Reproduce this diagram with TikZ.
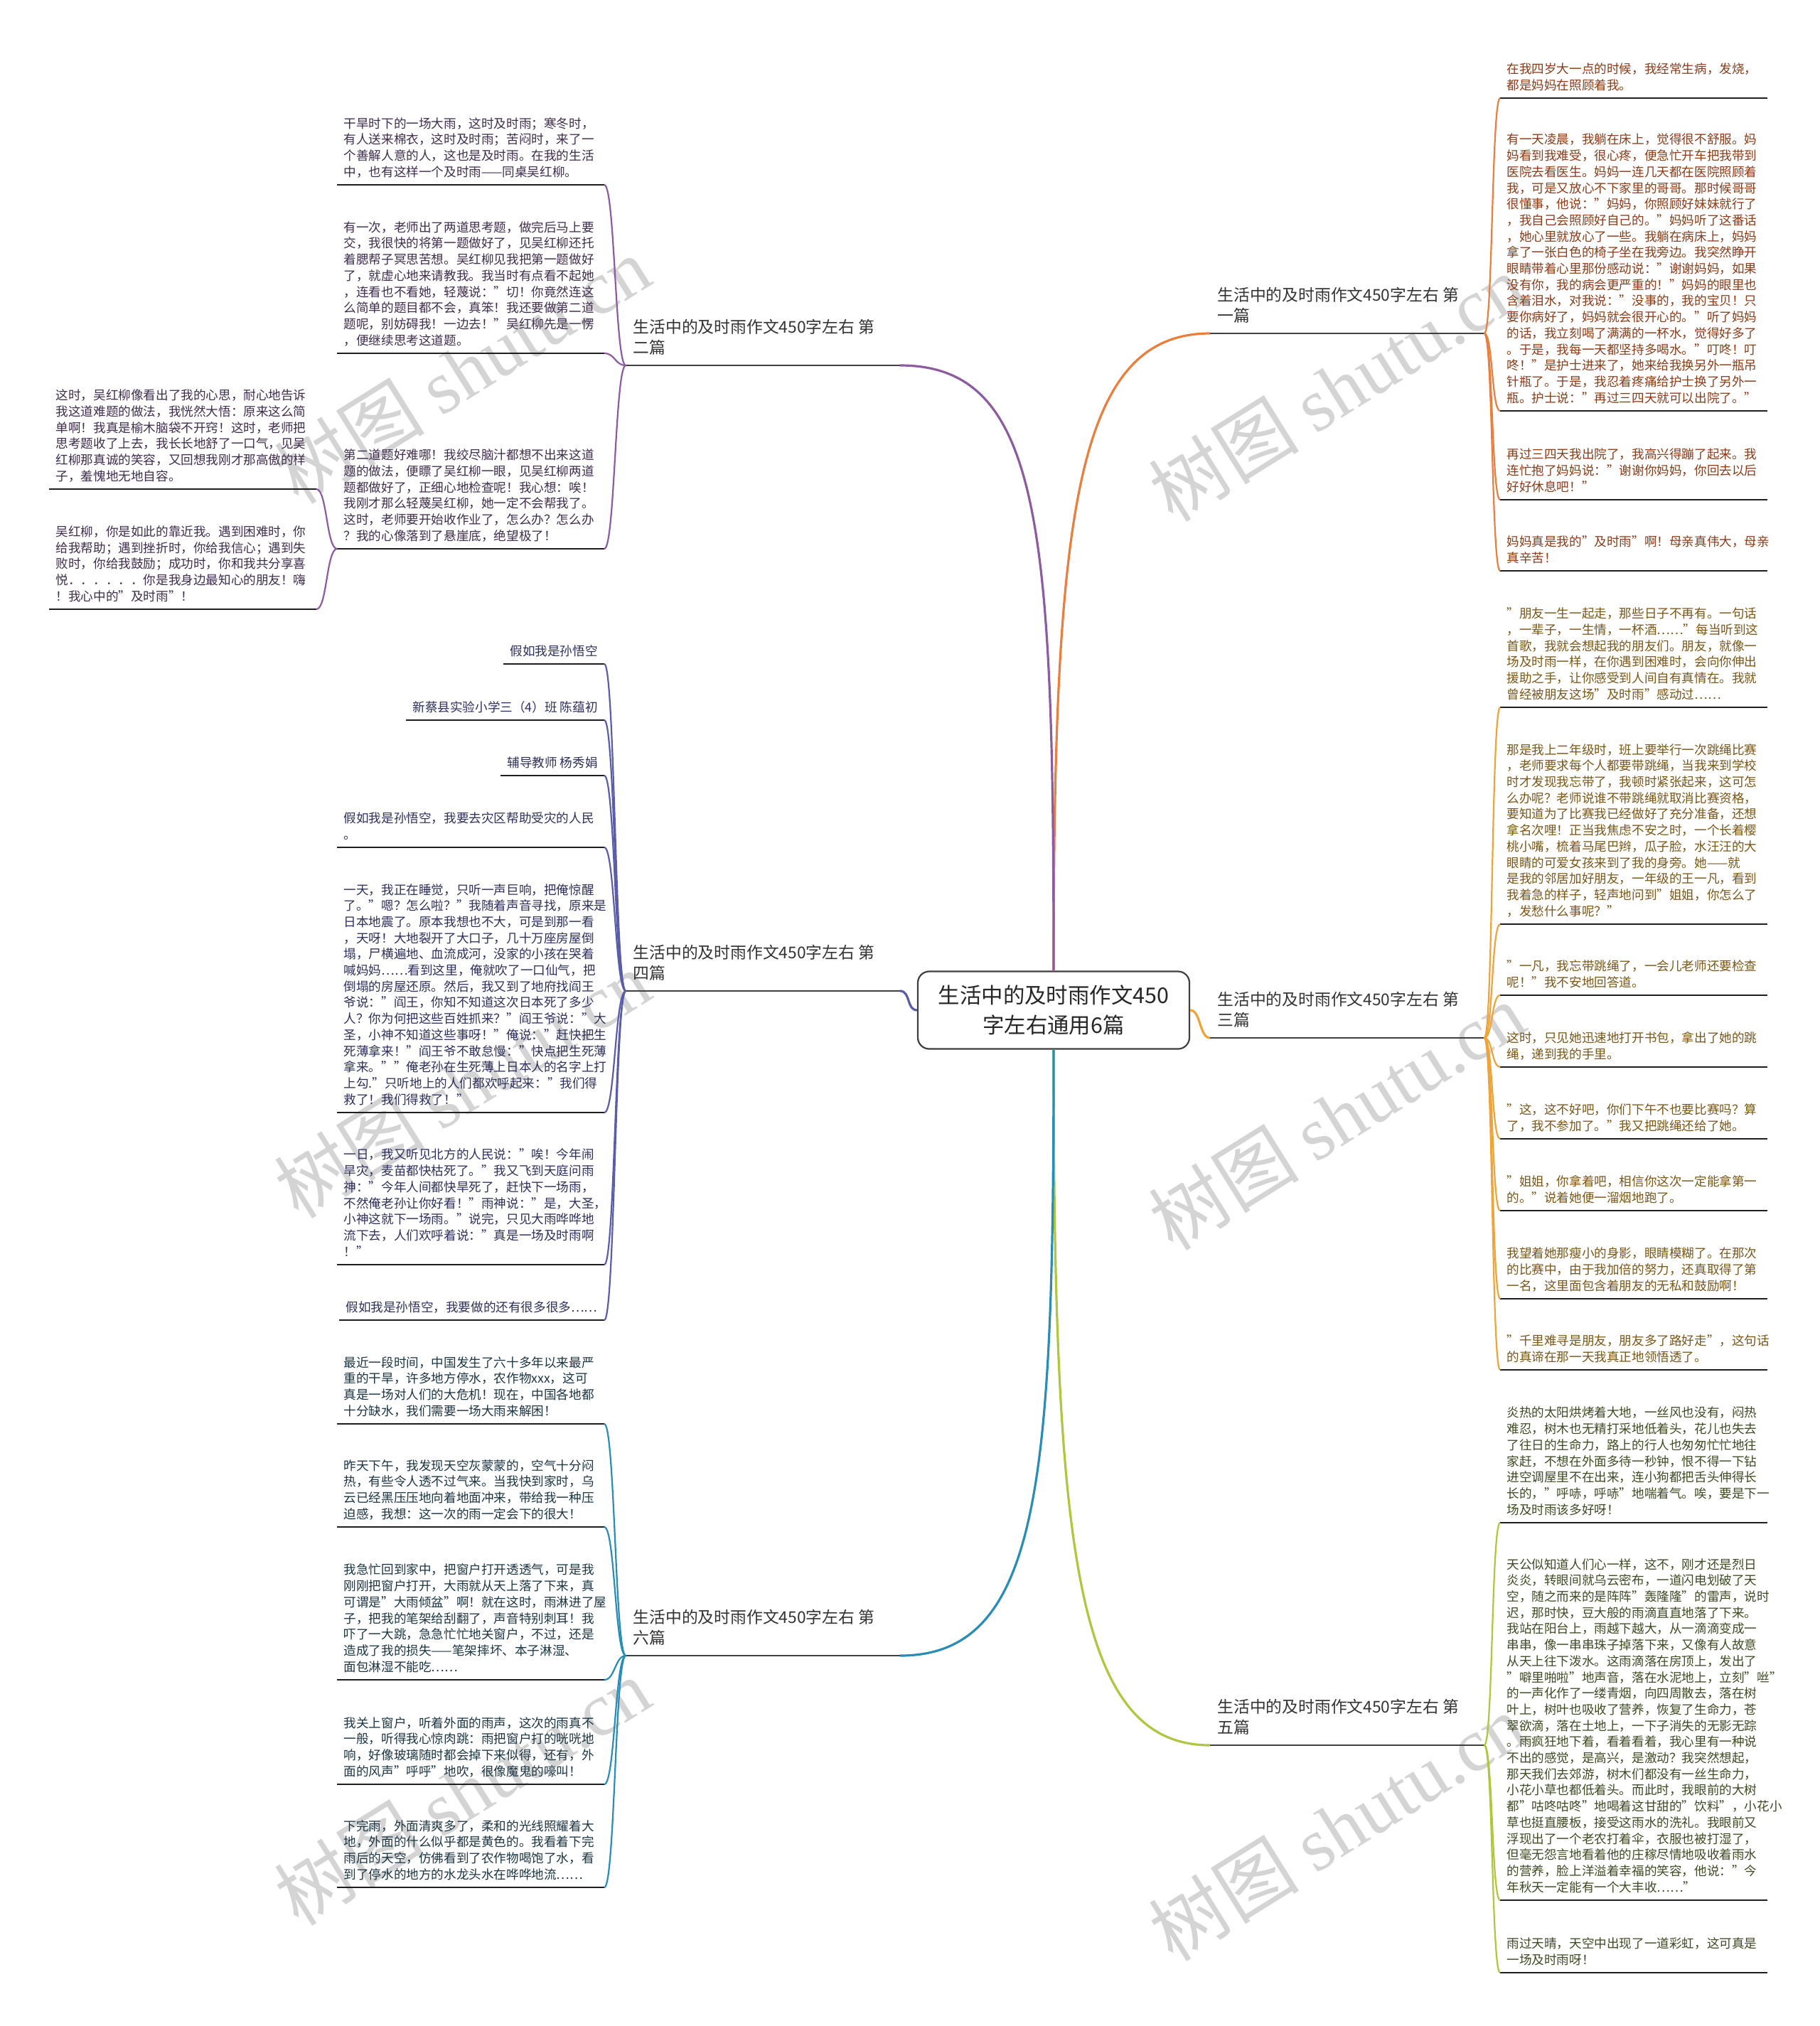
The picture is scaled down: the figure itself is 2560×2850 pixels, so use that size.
\documentclass[tikz,border=0pt]{standalone}
\usepackage{fontspec}
\setmainfont{Noto Sans CJK SC}
\newfontfamily\wmserif{Liberation Serif}
\newcommand\lfnt{\fontsize{8.8pt}{11.35pt}\selectfont}
\newcommand\bfnt{\fontsize{11.4pt}{14.5pt}\selectfont}
\newcommand\cfnt{\fontsize{15.2pt}{21pt}\selectfont}
\newcommand\leafbox[1]{\begin{tabular}[b]{@{}p{178.5pt}@{}}#1\end{tabular}}
\newcommand\brbox[1]{\begin{tabular}[b]{@{}p{182.5pt}@{}}#1\end{tabular}}
\definecolor{cBa}{HTML}{EA7E3C}
\definecolor{cBc}{HTML}{EFA43A}
\definecolor{cBe}{HTML}{AEC73C}
\definecolor{cBb}{HTML}{8D5B9F}
\definecolor{cBd}{HTML}{5A5DA8}
\definecolor{cBf}{HTML}{2A8DB5}
\definecolor{tBa}{HTML}{8B3B17}
\definecolor{tBc}{HTML}{7A5617}
\definecolor{tBe}{HTML}{3E4A22}
\definecolor{tBb}{HTML}{3E2D4D}
\definecolor{tBd}{HTML}{2E2F5C}
\definecolor{tBf}{HTML}{1C3543}
\begin{document}
\begin{tikzpicture}[x=0.5pt,y=-0.5pt,
  ul/.style={draw=black!88, line width=1.35pt},
  bul/.style={draw=black!75, line width=1.4pt},
  leaf/.style={inner xsep=4.5pt, inner ysep=5.75pt, text depth=0pt, font=\lfnt,
    append after command={(\tikzlastnode.south west) edge[ul] (\tikzlastnode.south east)}},
  leafR/.style={leaf, anchor=south west, text=#1},
  leafL/.style={leaf, anchor=south east, text=#1},
  leafS/.style={leaf, anchor=south east, text=#1},
  br/.style={font=\bfnt, text=black!80, inner xsep=5pt,
    inner ysep=8.3pt, text depth=0pt,
    append after command={(\tikzlastnode.south west) edge[bul] (\tikzlastnode.south east)}},
  brR/.style={br, anchor=south west},
  brL/.style={br, anchor=south east},
  ctrbox/.style={draw=black!75, line width=1.1pt, rounded corners=8pt, fill=white,
    minimum width=191pt, minimum height=54.5pt, align=center, font=\cfnt, text=black!85},
  mainlink/.style={draw=#1, line width=1.6pt},
  sublink/.style={draw=#1, line width=1.1pt},
  wm/.style={text=black!17, font=\fontsize{53pt}{60pt}\selectfont, rotate=32}
]
\fill[white] (0,0) rectangle (2560,2850);
\useasboundingbox (0,0) rectangle (2560,2850);

% watermarks
\node[wm] (w1) at (650,520) {树图 {\wmserif shutu.cn}};
\node[wm] (w2) at (1880,545) {树图 {\wmserif shutu.cn}};
\node[wm] (w3) at (650,1525) {树图 {\wmserif shutu.cn}};
\node[wm] (w4) at (1880,1570) {树图 {\wmserif shutu.cn}};
\node[wm] (w5) at (650,2520) {树图 {\wmserif shutu.cn}};
\node[wm] (w6) at (1880,2570) {树图 {\wmserif shutu.cn}};

% center
\node[ctrbox] (ctr) at (1482,1421) {生活中的及时雨作文450\\字左右通用6篇};

% branches
\node[brR] (b1) at (1702,469) {\brbox{生活中的及时雨作文450字左右 第\\一篇}};
\node[brR] (b3) at (1702,1460) {\brbox{生活中的及时雨作文450字左右 第\\三篇}};
\node[brR] (b5) at (1702,2455) {\brbox{生活中的及时雨作文450字左右 第\\五篇}};
\node[brL] (b2) at (1266,514) {\brbox{生活中的及时雨作文450字左右 第\\二篇}};
\node[brL] (b4) at (1266,1394) {\brbox{生活中的及时雨作文450字左右 第\\四篇}};
\node[brL] (b6) at (1266,2329) {\brbox{生活中的及时雨作文450字左右 第\\六篇}};

\draw[mainlink=cBa] (ctr.north) .. controls +(0,-640) and +(-190,0) .. (b1.south west);
\draw[mainlink=cBb] (ctr.north) .. controls +(0,-620) and +(200,0) .. (b2.south east);
\draw[mainlink=cBc] (ctr.east) .. controls +(15,0) and +(-15,0) .. (b3.south west);
\draw[mainlink=cBd] (ctr.west) .. controls +(-15,0) and +(15,0) .. (b4.south east);
\draw[mainlink=cBe] (ctr.south) .. controls +(0,700) and +(-190,0) .. (b5.south west);
\draw[mainlink=cBf] (ctr.south) .. controls +(0,600) and +(200,0) .. (b6.south east);

% ---- branch 1 leaves
\node[leafR=tBa] (r1a) at (2110,138) {\leafbox{在我四岁大一点的时候，我经常生病，发烧，\\都是妈妈在照顾着我。}};
\node[leafR=tBa] (r1b) at (2110,578) {\leafbox{有一天凌晨，我躺在床上，觉得很不舒服。妈\\妈看到我难受，很心疼，便急忙开车把我带到\\医院去看医生。妈妈一连几天都在医院照顾着\\我，可是又放心不下家里的哥哥。那时候哥哥\\很懂事，他说："妈妈，你照顾好妹妹就行了\\，我自己会照顾好自己的。"妈妈听了这番话\\，她心里就放心了一些。我躺在病床上，妈妈\\拿了一张白色的椅子坐在我旁边。我突然睁开\\眼睛带着心里那份感动说："谢谢妈妈，如果\\没有你，我的病会更严重的！"妈妈的眼里也\\含着泪水，对我说："没事的，我的宝贝！只\\要你病好了，妈妈就会很开心的。"听了妈妈\\的话，我立刻喝了满满的一杯水，觉得好多了\\。于是，我每一天都坚持多喝水。"叮咚！叮\\咚！"是护士进来了，她来给我换另外一瓶吊\\针瓶了。于是，我忍着疼痛给护士换了另外一\\瓶。护士说："再过三四天就可以出院了。"}};
\node[leafR=tBa] (r1c) at (2110,703) {\leafbox{再过三四天我出院了，我高兴得蹦了起来。我\\连忙抱了妈妈说："谢谢你妈妈，你回去以后\\好好休息吧！"}};
\node[leafR=tBa] (r1d) at (2110,803) {\leafbox{妈妈真是我的"及时雨"啊！母亲真伟大，母亲\\真辛苦！}};
\foreach \n in {r1a,r1b,r1c,r1d}
  \draw[sublink=cBa] (b1.south east) .. controls +(12,0) and +(-12,0) .. (\n.south west);

% ---- branch 3 leaves
\node[leafR=tBc] (r3a) at (2110,995) {\leafbox{"朋友一生一起走，那些日子不再有。一句话\\，一辈子，一生情，一杯酒……"每当听到这\\首歌，我就会想起我的朋友们。朋友，就像一\\场及时雨一样，在你遇到困难时，会向你伸出\\援助之手，让你感受到人间自有真情在。我就\\曾经被朋友这场"及时雨"感动过……}};
\node[leafR=tBc] (r3b) at (2110,1300) {\leafbox{那是我上二年级时，班上要举行一次跳绳比赛\\，老师要求每个人都要带跳绳，当我来到学校\\时才发现我忘带了，我顿时紧张起来，这可怎\\么办呢？老师说谁不带跳绳就取消比赛资格，\\要知道为了比赛我已经做好了充分准备，还想\\拿名次哩！正当我焦虑不安之时，一个长着樱\\桃小嘴，梳着马尾巴辫，瓜子脸，水汪汪的大\\眼睛的可爱女孩来到了我的身旁。她——就\\是我的邻居加好朋友，一年级的王一凡，看到\\我着急的样子，轻声地问到"姐姐，你怎么了\\，发愁什么事呢？"}};
\node[leafR=tBc] (r3c) at (2110,1400) {\leafbox{"一凡，我忘带跳绳了，一会儿老师还要检查\\呢！"我不安地回答道。}};
\node[leafR=tBc] (r3d) at (2110,1501) {\leafbox{这时，只见她迅速地打开书包，拿出了她的跳\\绳，递到我的手里。}};
\node[leafR=tBc] (r3e) at (2110,1602) {\leafbox{"这，这不好吧，你们下午不也要比赛吗？算\\了，我不参加了。"我又把跳绳还给了她。}};
\node[leafR=tBc] (r3f) at (2110,1703) {\leafbox{"姐姐，你拿着吧，相信你这次一定能拿第一\\的。"说着她便一溜烟地跑了。}};
\node[leafR=tBc] (r3g) at (2110,1827) {\leafbox{我望着她那瘦小的身影，眼睛模糊了。在那次\\的比赛中，由于我加倍的努力，还真取得了第\\一名，这里面包含着朋友的无私和鼓励啊！}};
\node[leafR=tBc] (r3h) at (2110,1927) {\leafbox{"千里难寻是朋友，朋友多了路好走"，这句话\\的真谛在那一天我真正地领悟透了。}};
\foreach \n in {r3a,r3b,r3c,r3d,r3e,r3f,r3g,r3h}
  \draw[sublink=cBc] (b3.south east) .. controls +(12,0) and +(-12,0) .. (\n.south west);

% ---- branch 5 leaves
\node[leafR=tBe] (r5a) at (2110,2142) {\leafbox{炎热的太阳烘烤着大地，一丝风也没有，闷热\\难忍，树木也无精打采地低着头，花儿也失去\\了往日的生命力，路上的行人也匆匆忙忙地往\\家赶，不想在外面多待一秒钟，恨不得一下钻\\进空调屋里不在出来，连小狗都把舌头伸得长\\长的，"呼哧，呼哧"地喘着气。唉，要是下一\\场及时雨该多好呀！}};
\node[leafR=tBe] (r5b) at (2110,2673) {\leafbox{天公似知道人们心一样，这不，刚才还是烈日\\炎炎，转眼间就乌云密布，一道闪电划破了天\\空，随之而来的是阵阵"轰隆隆"的雷声，说时\\迟，那时快，豆大般的雨滴直直地落了下来。\\我站在阳台上，雨越下越大，从一滴滴变成一\\串串，像一串串珠子掉落下来，又像有人故意\\从天上往下泼水。这雨滴落在房顶上，发出了\\"噼里啪啦"地声音，落在水泥地上，立刻"咝"\\的一声化作了一缕青烟，向四周散去，落在树\\叶上，树叶也吸收了营养，恢复了生命力，苍\\翠欲滴，落在土地上，一下子消失的无影无踪\\。雨疯狂地下着，看着看着，我心里有一种说\\不出的感觉，是高兴，是激动？我突然想起，\\那天我们去郊游，树木们都没有一丝生命力，\\小花小草也都低着头。而此时，我眼前的大树\\都"咕咚咕咚"地喝着这甘甜的"饮料"，小花小\\草也挺直腰板，接受这雨水的洗礼。我眼前又\\浮现出了一个老农打着伞，衣服也被打湿了，\\但毫无怨言地看着他的庄稼尽情地吸收着雨水\\的营养，脸上洋溢着幸福的笑容，他说："今\\年秋天一定能有一个大丰收……"}};
\node[leafR=tBe] (r5c) at (2110,2775) {\leafbox{雨过天晴，天空中出现了一道彩虹，这可真是\\一场及时雨呀！}};
\foreach \n in {r5a,r5b,r5c}
  \draw[sublink=cBe] (b5.south east) .. controls +(12,0) and +(-12,0) .. (\n.south west);

% ---- branch 2 leaves
\node[leafL=tBb] (l2a) at (850,260) {\leafbox{干旱时下的一场大雨，这时及时雨；寒冬时，\\有人送来棉衣，这时及时雨；苦闷时，来了一\\个善解人意的人，这也是及时雨。在我的生活\\中，也有这样一个及时雨——同桌吴红柳。}};
\node[leafL=tBb] (l2b) at (850,497) {\leafbox{有一次，老师出了两道思考题，做完后马上要\\交，我很快的将第一题做好了，见吴红柳还托\\着腮帮子冥思苦想。吴红柳见我把第一题做好\\了，就虚心地来请教我。我当时有点看不起她\\，连看也不看她，轻蔑说："切！你竟然连这\\么简单的题目都不会，真笨！我还要做第二道\\题呢，别妨碍我！一边去！"吴红柳先是一愣\\，便继续思考这道题。}};
\node[leafL=tBb] (l2c) at (850,772) {\leafbox{第二道题好难哪！我绞尽脑汁都想不出来这道\\题的做法，便瞟了吴红柳一眼，见吴红柳两道\\题都做好了，正细心地检查呢！我心想：唉！\\我刚才那么轻蔑吴红柳，她一定不会帮我了。\\这时，老师要开始收作业了，怎么办？怎么办\\？我的心像落到了悬崖底，绝望极了！}};
\node[leafL=tBb] (l2d) at (445,688) {\leafbox{这时，吴红柳像看出了我的心思，耐心地告诉\\我这道难题的做法，我恍然大悟：原来这么简\\单啊！我真是榆木脑袋不开窍！这时，老师把\\思考题收了上去，我长长地舒了一口气，见吴\\红柳那真诚的笑容，又回想我刚才那高傲的样\\子，羞愧地无地自容。}};
\node[leafL=tBb] (l2e) at (445,857) {\leafbox{吴红柳，你是如此的靠近我。遇到困难时，你\\给我帮助；遇到挫折时，你给我信心；遇到失\\败时，你给我鼓励；成功时，你和我共分享喜\\悦．．．．．．你是我身边最知心的朋友！嗨\\！我心中的"及时雨"！}};
\foreach \n in {l2a,l2b,l2c}
  \draw[sublink=cBb] (b2.south west) .. controls +(-15,0) and +(15,0) .. (\n.south east);
\foreach \n in {l2d,l2e}
  \draw[sublink=cBb] (l2c.south west) .. controls +(-15,0) and +(15,0) .. (\n.south east);

% ---- branch 4 leaves
\node[leafS=tBd] (l4a) at (850,934) {假如我是孙悟空};
\node[leafS=tBd] (l4b) at (850,1013) {新蔡县实验小学三（4）班 陈蕴初};
\node[leafS=tBd] (l4c) at (850,1091) {辅导教师 杨秀娟};
\node[leafL=tBd] (l4d) at (850,1192) {\leafbox{假如我是孙悟空，我要去灾区帮助受灾的人民\\。}};
\node[leafL=tBd] (l4e) at (850,1565) {\leafbox{一天，我正在睡觉，只听一声巨响，把俺惊醒\\了。"嗯？怎么啦？"我随着声音寻找，原来是\\日本地震了。原本我想也不大，可是到那一看\\，天呀！大地裂开了大口子，几十万座房屋倒\\塌，尸横遍地、血流成河，没家的小孩在哭着\\喊妈妈……看到这里，俺就吹了一口仙气，把\\倒塌的房屋还原。然后，我又到了地府找阎王\\爷说："阎王，你知不知道这次日本死了多少\\人？你为何把这些百姓抓来？"阎王爷说："大\\圣，小神不知道这些事呀！"俺说："赶快把生\\死薄拿来！"阎王爷不敢怠慢："快点把生死薄\\拿来。""俺老孙在生死薄上日本人的名字上打\\上勾."只听地上的人们都欢呼起来："我们得\\救了！我们得救了！"}};
\node[leafL=tBd] (l4f) at (850,1779) {\leafbox{一日，我又听见北方的人民说："唉！今年闹\\旱灾，麦苗都快枯死了。"我又飞到天庭问雨\\神："今年人间都快旱死了，赶快下一场雨，\\不然俺老孙让你好看！"雨神说："是，大圣，\\小神这就下一场雨。"说完，只见大雨哗哗地\\流下去，人们欢呼着说："真是一场及时雨啊\\！"}};
\node[leafS=tBd] (l4g) at (850,1857) {假如我是孙悟空，我要做的还有很多很多……};
\foreach \n in {l4a,l4b,l4c,l4d,l4e,l4f,l4g}
  \draw[sublink=cBd] (b4.south west) .. controls +(-15,0) and +(15,0) .. (\n.south east);

% ---- branch 6 leaves
\node[leafL=tBf] (l6a) at (850,2003) {\leafbox{最近一段时间，中国发生了六十多年以来最严\\重的干旱，许多地方停水，农作物xxx，这可\\真是一场对人们的大危机！现在，中国各地都\\十分缺水，我们需要一场大雨来解困！}};
\node[leafL=tBf] (l6b) at (850,2148) {\leafbox{昨天下午，我发现天空灰蒙蒙的，空气十分闷\\热，有些令人透不过气来。当我快到家时，乌\\云已经黑压压地向着地面冲来，带给我一种压\\迫感，我想：这一次的雨一定会下的很大！}};
\node[leafL=tBf] (l6c) at (850,2363) {\leafbox{我急忙回到家中，把窗户打开透透气，可是我\\刚刚把窗户打开，大雨就从天上落了下来，真\\可谓是"大雨倾盆"啊！就在这时，雨淋进了屋\\子，把我的笔架给刮翻了，声音特别刺耳！我\\吓了一大跳，急急忙忙地关窗户，不过，还是\\造成了我的损失——笔架摔坏、本子淋湿、\\面包淋湿不能吃……}};
\node[leafL=tBf] (l6d) at (850,2510) {\leafbox{我关上窗户，听着外面的雨声，这次的雨真不\\一般，听得我心惊肉跳：雨把窗户打的咣咣地\\响，好像玻璃随时都会掉下来似得，还有，外\\面的风声"呼呼"地吹，很像魔鬼的嚎叫！}};
\node[leafL=tBf] (l6e) at (850,2655) {\leafbox{下完雨，外面清爽多了，柔和的光线照耀着大\\地，外面的什么似乎都是黄色的。我看着下完\\雨后的天空，仿佛看到了农作物喝饱了水，看\\到了停水的地方的水龙头水在哗哗地流……}};
\foreach \n in {l6a,l6b,l6c,l6d,l6e}
  \draw[sublink=cBf] (b6.south west) .. controls +(-15,0) and +(15,0) .. (\n.south east);
\end{tikzpicture}
\end{document}
